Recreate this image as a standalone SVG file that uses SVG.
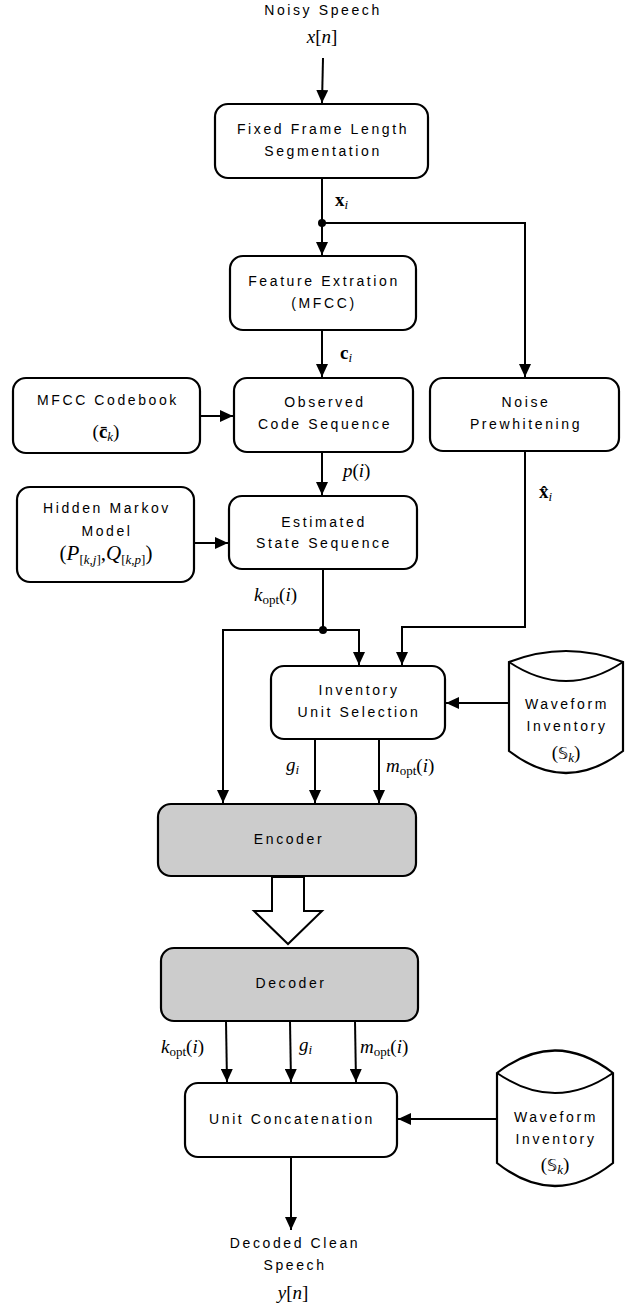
<svg xmlns="http://www.w3.org/2000/svg" width="632" height="1308" viewBox="0 0 632 1308">
<style>
.bg{fill:#fff}
.box{fill:#fff;stroke:#000;stroke-width:2.2}
.gray{fill:#cccccc;stroke:#000;stroke-width:2.2}
.t{font-family:"Liberation Sans",Arial,sans-serif;font-size:14px;letter-spacing:2.6px;fill:#000;text-anchor:middle}
.m{font-family:"Liberation Serif","Times New Roman",serif;font-size:19px;font-style:italic;fill:#000}
.f{font-size:21px}
.r{font-style:normal}
.b{font-weight:bold;font-style:normal}
.sub{font-size:13px}
.ds{font-family:"DejaVu Sans",sans-serif;font-style:normal;font-size:16px}
.ln{fill:none;stroke:#000;stroke-width:2}
.dot{fill:#000}
</style>
<defs>
<marker id="ah" markerUnits="userSpaceOnUse" markerWidth="14" markerHeight="12" refX="13" refY="6" orient="auto">
<path d="M0,0 L13,6 L0,12 z" fill="#000"/>
</marker>
</defs>
<rect class="bg" x="0" y="0" width="632" height="1308"/>

<g id="input-label">
<text class="t" x="323" y="15">Noisy Speech</text>
<text class="m" x="322" y="43" text-anchor="middle">x<tspan class="r">[</tspan>n<tspan class="r">]</tspan></text>
</g>

<g id="node-segmentation">
<rect class="box" x="215" y="104" width="213" height="74" rx="13"/>
<text class="t" x="323" y="134">Fixed Frame Length</text>
<text class="t" x="323" y="156">Segmentation</text>
</g>

<g id="node-feature">
<rect class="box" x="230" y="256" width="186" height="74" rx="13"/>
<text class="t" x="324" y="286">Feature Extration</text>
<text class="t" x="324" y="308">(MFCC)</text>
</g>

<g id="node-codebook">
<rect class="box" x="13" y="378" width="187" height="75" rx="13"/>
<text class="t" x="108" y="405">MFCC Codebook</text>
<text class="m" x="106" y="438" text-anchor="middle"><tspan class="r">(</tspan><tspan class="b">c̄</tspan><tspan class="sub" dy="3">k</tspan><tspan class="r" dy="-3">)</tspan></text>
</g>

<g id="node-observed">
<rect class="box" x="234" y="378" width="179" height="74" rx="13"/>
<text class="t" x="325" y="407">Observed</text>
<text class="t" x="325" y="429">Code Sequence</text>
</g>

<g id="node-noise">
<rect class="box" x="430" y="378" width="189" height="73" rx="13"/>
<text class="t" x="526" y="407">Noise</text>
<text class="t" x="526" y="429">Prewhitening</text>
</g>

<g id="node-hmm">
<rect class="box" x="17" y="487" width="177" height="95" rx="13"/>
<text class="t" x="107" y="513">Hidden Markov</text>
<text class="t" x="107" y="536">Model</text>
<text class="m f" x="106" y="560" text-anchor="middle"><tspan class="r">(</tspan>P<tspan class="sub" dy="4"><tspan class="r">[</tspan>k<tspan class="r">,</tspan>j<tspan class="r">]</tspan></tspan><tspan class="r" dy="-4">,</tspan>Q<tspan class="sub" dy="4"><tspan class="r">[</tspan>k<tspan class="r">,</tspan>p<tspan class="r">]</tspan></tspan><tspan class="r" dy="-4">)</tspan></text>
</g>

<g id="node-estimated">
<rect class="box" x="229" y="496" width="188" height="73" rx="13"/>
<text class="t" x="324" y="527">Estimated</text>
<text class="t" x="324" y="548">State Sequence</text>
</g>

<g id="node-selection">
<rect class="box" x="271" y="666" width="174" height="73" rx="13"/>
<text class="t" x="359" y="695">Inventory</text>
<text class="t" x="359" y="717">Unit Selection</text>
</g>

<g id="node-inventory1">
<path class="box" d="M509,662 Q566,640 623,662 L623,751 Q566,795 509,751 Z"/>
<path class="ln" d="M509,662 Q566,700 623,662" stroke-width="2.2"/>
<text class="t" x="567" y="709">Waveform</text>
<text class="t" x="567" y="731">Inventory</text>
<text class="m" x="566" y="759" text-anchor="middle"><tspan class="r">(</tspan><tspan class="ds">𝕊</tspan><tspan class="sub" dy="3">k</tspan><tspan class="r" dy="-3">)</tspan></text>
</g>

<g id="node-encoder">
<rect class="gray" x="158" y="804" width="258" height="72" rx="13"/>
<text class="t" x="289" y="844">Encoder</text>
</g>

<g id="node-decoder">
<rect class="gray" x="161" y="948" width="257" height="73" rx="13"/>
<text class="t" x="291" y="988">Decoder</text>
</g>

<g id="node-concatenation">
<rect class="box" x="185" y="1083" width="212" height="74" rx="13"/>
<text class="t" x="292" y="1124">Unit Concatenation</text>
</g>

<g id="node-inventory2">
<path class="box" d="M497,1073 Q555,1028 613,1073 L613,1163 Q555,1209 497,1163 Z"/>
<path class="ln" d="M497,1073 Q555,1113 613,1073" stroke-width="2.2"/>
<text class="t" x="556" y="1122">Waveform</text>
<text class="t" x="556" y="1144">Inventory</text>
<text class="m" x="555" y="1171" text-anchor="middle"><tspan class="r">(</tspan><tspan class="ds">𝕊</tspan><tspan class="sub" dy="3">k</tspan><tspan class="r" dy="-3">)</tspan></text>
</g>

<g id="output-label">
<text class="t" x="295" y="1248">Decoded Clean</text>
<text class="t" x="295" y="1270">Speech</text>
<text class="m" x="293" y="1299" text-anchor="middle">y<tspan class="r">[</tspan>n<tspan class="r">]</tspan></text>
</g>

<g id="connectors">
<line class="ln" x1="323" y1="58" x2="322" y2="103" marker-end="url(#ah)"/>
<line class="ln" x1="322" y1="178" x2="322" y2="255" marker-end="url(#ah)"/>
<path class="ln" d="M322,223 H525 V377" marker-end="url(#ah)"/>
<circle class="dot" cx="322" cy="223" r="4"/>
<line class="ln" x1="322" y1="330" x2="322" y2="377" marker-end="url(#ah)"/>
<line class="ln" x1="200" y1="416" x2="233" y2="416" marker-end="url(#ah)"/>
<line class="ln" x1="322" y1="452" x2="322" y2="495" marker-end="url(#ah)"/>
<line class="ln" x1="194" y1="543" x2="228" y2="543" marker-end="url(#ah)"/>
<path class="ln" d="M525,451 V627 H402 V665" marker-end="url(#ah)"/>
<path class="ln" d="M323,569 V630 H359 V665" marker-end="url(#ah)"/>
<path class="ln" d="M323,630 H223 V803" marker-end="url(#ah)"/>
<circle class="dot" cx="323" cy="630" r="4"/>
<line class="ln" x1="315" y1="739" x2="315" y2="803" marker-end="url(#ah)"/>
<line class="ln" x1="379" y1="739" x2="379" y2="803" marker-end="url(#ah)"/>
<line class="ln" x1="509" y1="703" x2="446" y2="703" marker-end="url(#ah)"/>
<polygon points="272,877 304,877 304,911 322,911 288,944 254,911 272,911" fill="#fff" stroke="#000" stroke-width="2"/>
<line class="ln" x1="226" y1="1021" x2="227" y2="1082" marker-end="url(#ah)"/>
<line class="ln" x1="290" y1="1021" x2="291" y2="1082" marker-end="url(#ah)"/>
<line class="ln" x1="355" y1="1021" x2="356" y2="1082" marker-end="url(#ah)"/>
<line class="ln" x1="497" y1="1119" x2="398" y2="1119" marker-end="url(#ah)"/>
<line class="ln" x1="291" y1="1157" x2="291" y2="1230" marker-end="url(#ah)"/>
</g>

<g id="connector-labels">
<text class="m" x="335" y="206"><tspan class="b">x</tspan><tspan class="sub" dy="3">i</tspan></text>
<text class="m" x="340" y="359"><tspan class="b">c</tspan><tspan class="sub" dy="3">i</tspan></text>
<text class="m" x="343" y="477">p<tspan class="r">(</tspan>i<tspan class="r">)</tspan></text>
<text class="m" x="539" y="498"><tspan class="b">x̂</tspan><tspan class="sub" dy="3">i</tspan></text>
<text class="m" x="254" y="601">k<tspan class="sub r" dy="3">opt</tspan><tspan class="r" dy="-3">(</tspan>i<tspan class="r">)</tspan></text>
<text class="m" x="286" y="771">g<tspan class="sub" dy="3">i</tspan></text>
<text class="m" x="386" y="772">m<tspan class="sub r" dy="3">opt</tspan><tspan class="r" dy="-3">(</tspan>i<tspan class="r">)</tspan></text>
<text class="m" x="161" y="1053">k<tspan class="sub r" dy="3">opt</tspan><tspan class="r" dy="-3">(</tspan>i<tspan class="r">)</tspan></text>
<text class="m" x="299" y="1051">g<tspan class="sub" dy="3">i</tspan></text>
<text class="m" x="360" y="1053">m<tspan class="sub r" dy="3">opt</tspan><tspan class="r" dy="-3">(</tspan>i<tspan class="r">)</tspan></text>
</g>
</svg>
